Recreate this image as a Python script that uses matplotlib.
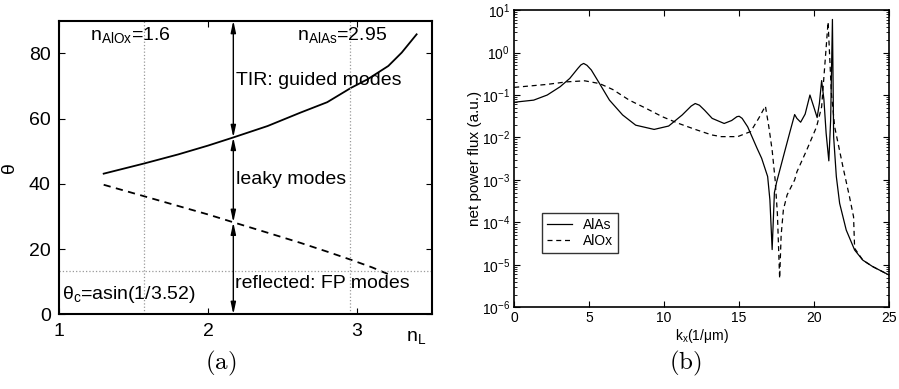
import numpy as np
import matplotlib.pyplot as plt

plt.rcParams["font.family"] = ["Liberation Sans", "DejaVu Sans"]
plt.rcParams["mathtext.fontset"] = "custom"
plt.rcParams["mathtext.rm"] = "Liberation Sans"
plt.rcParams["mathtext.it"] = "Liberation Sans:italic"

# (a) angle vs cladding index
nL_guided = [1.30, 1.57, 1.80, 2.00, 2.17, 2.40, 2.62, 2.80, 2.96, 3.07, 3.21, 3.30, 3.40]
theta_guided = [43.1, 46.2, 49.0, 51.7, 54.2, 57.7, 61.8, 65.0, 69.4, 72.0, 76.1, 80.2, 85.8]
nL_leaky = [1.30, 1.57, 1.80, 2.00, 2.17, 2.40, 2.62, 2.80, 2.96, 3.10, 3.21]
theta_leaky = [39.7, 36.2, 33.2, 30.6, 28.2, 25.0, 21.9, 19.2, 16.7, 14.4, 12.3]
n_AlOx = 1.57
n_AlAs = 2.95
theta_c = 13.4
n_arrow = 2.17

# (b) net power flux vs kx (log10 values)
kx_AlAs = [0, 1.3, 2.2, 3.06, 3.7, 4.25, 4.45, 4.63, 4.85, 5.14, 5.69, 6.35, 7.23, 8.1,
           9.33, 10.3, 11.2, 11.8, 12.07, 12.35, 12.7, 13.2, 14.0, 14.5, 14.85, 15.0,
           15.2, 15.57, 16.2, 16.5, 16.9, 17.05, 17.2, 17.35, 17.5, 18.0, 18.4, 18.7,
           18.85, 19.1, 19.4, 19.72, 19.95, 20.2, 20.35, 20.5, 20.65, 20.8, 20.98, 21.1,
           21.22, 21.3, 21.48, 21.7, 22.14, 22.7, 23.25, 23.9, 24.56, 25]
logP_AlAs = [-1.17, -1.12, -1.00, -0.805, -0.61, -0.37, -0.29, -0.256, -0.30, -0.41,
             -0.73, -1.12, -1.47, -1.71, -1.81, -1.73, -1.47, -1.26, -1.20, -1.24,
             -1.36, -1.55, -1.67, -1.60, -1.51, -1.50, -1.55, -1.75, -2.26, -2.49,
             -2.92, -3.47, -4.64, -3.30, -3.05, -2.38, -1.85, -1.46, -1.55, -1.64,
             -1.45, -1.00, -1.25, -1.53, -1.20, -0.66, -1.10, -1.90, -2.55, -1.60,
             0.78, -1.98, -2.92, -3.55, -4.18, -4.65, -4.89, -5.04, -5.16, -5.24]
kx_AlOx = [0, 2.18, 3.5, 4.7, 5.69, 6.57, 7.67, 8.77, 9.87, 10.97, 12.07, 13.17, 13.8,
           14.9, 15.77, 16.3, 16.75, 16.98, 17.2, 17.4, 17.55, 17.7, 17.8, 17.95, 18.2,
           18.7, 18.85, 19.5, 20.16, 20.5, 20.72, 20.93, 21.15, 21.37, 21.92, 22.36,
           22.63, 22.7, 23.25, 23.9, 24.56, 25]
logP_AlOx = [-0.82, -0.75, -0.69, -0.665, -0.73, -0.87, -1.12, -1.31, -1.51, -1.67,
             -1.81, -1.94, -1.98, -1.98, -1.86, -1.55, -1.26, -1.75, -2.30, -3.00,
             -3.80, -5.32, -4.30, -3.70, -3.35, -3.00, -2.81, -2.30, -1.75, -1.28,
             -0.26, 0.72, -0.96, -1.75, -2.69, -3.40, -3.87, -4.61, -4.89, -5.04,
             -5.16, -5.24]

fig = plt.figure(figsize=(8.99, 3.89), dpi=100)

# ---- panel (a)
ax1 = fig.add_axes([0.0656, 0.192, 0.4144, 0.755])
ax1.plot(nL_guided, theta_guided, "k-", lw=1.3)
ax1.plot(nL_leaky, theta_leaky, "k--", lw=1.3, dashes=(4, 3))
for n in (n_AlOx, n_AlAs):
    ax1.axvline(n, color="0.6", ls=":", lw=0.9)
ax1.axhline(theta_c, color="0.6", ls=":", lw=0.9)

theta_top = 90
theta_mid = np.interp(n_arrow, nL_guided, theta_guided)
theta_low = np.interp(n_arrow, nL_leaky, theta_leaky)
for y0, y1 in ((theta_top, theta_mid), (theta_mid, theta_low), (theta_low, 0)):
    ax1.annotate("", xy=(n_arrow, y1), xytext=(n_arrow, y0),
                 arrowprops=dict(arrowstyle="<|-|>,head_length=0.7,head_width=0.15",
                                 color="k", lw=1.0, shrinkA=0, shrinkB=0))

fs = 14
ax1.text(1.21, 85.5, r"n$_{\rm AlOx}$=1.6", fontsize=fs, va="center")
ax1.text(2.60, 85.5, r"n$_{\rm AlAs}$=2.95", fontsize=fs, va="center")
ax1.text(2.19, 71.5, "TIR: guided modes", fontsize=fs, va="center")
ax1.text(2.19, 41.2, "leaky modes", fontsize=fs, va="center")
ax1.text(2.18, 9.5, "reflected: FP modes", fontsize=fs, va="center")
ax1.text(1.02, 6.0, "θ" + r"$_{\rm c}$=asin(1/3.52)", fontsize=fs, va="center")
ax1.text(3.33, -7.0, r"n$_{\rm L}$", fontsize=fs, va="center", clip_on=False)

ax1.set_xlim(1, 3.5)
ax1.set_ylim(0, 90)
ax1.set_xticks([1, 2, 3])
ax1.set_yticks([0, 20, 40, 60, 80])
ax1.set_ylabel("θ", fontsize=fs, labelpad=8)
ax1.tick_params(direction="in", top=True, right=True, labelsize=14, length=4, pad=6)
for s in ax1.spines.values():
    s.set_linewidth(1.5)

# ---- panel (b)
ax2 = fig.add_axes([0.572, 0.210, 0.417, 0.764])
ax2.plot(kx_AlAs, 10.0 ** np.array(logP_AlAs), "k-", lw=0.9, label="AlAs")
ax2.plot(kx_AlOx, 10.0 ** np.array(logP_AlOx), "k--", lw=0.9, dashes=(4, 3), label="AlOx")
ax2.set_yscale("log")
ax2.set_xlim(0, 25)
ax2.set_ylim(1e-6, 10)
ax2.set_xticks([0, 5, 10, 15, 20, 25])
ax2.set_xlabel(r"k$_{\rm x}$(1/μm)", fontsize=10, labelpad=1)
ax2.set_ylabel("net power flux (a.u.)", fontsize=11, labelpad=0)
ax2.tick_params(which="both", direction="in", top=True, right=True, labelsize=10)
ax2.tick_params(which="major", length=4, pad=3)
ax2.tick_params(which="minor", length=2)
for s in ax2.spines.values():
    s.set_linewidth(1.2)
leg = ax2.legend(loc="lower left", bbox_to_anchor=(0.055, 0.16), fontsize=10,
                 frameon=True, fancybox=False, edgecolor="k", handlelength=1.8,
                 borderpad=0.35, labelspacing=0.15)
leg.get_frame().set_linewidth(1.0)

fig.text(0.245, 0.05, r"$\mathrm{(a)}$", fontsize=18, ha="center", math_fontfamily="cm")
fig.text(0.762, 0.05, r"$\mathrm{(b)}$", fontsize=18, ha="center", math_fontfamily="cm")

fig.savefig("out.png", dpi=100)
